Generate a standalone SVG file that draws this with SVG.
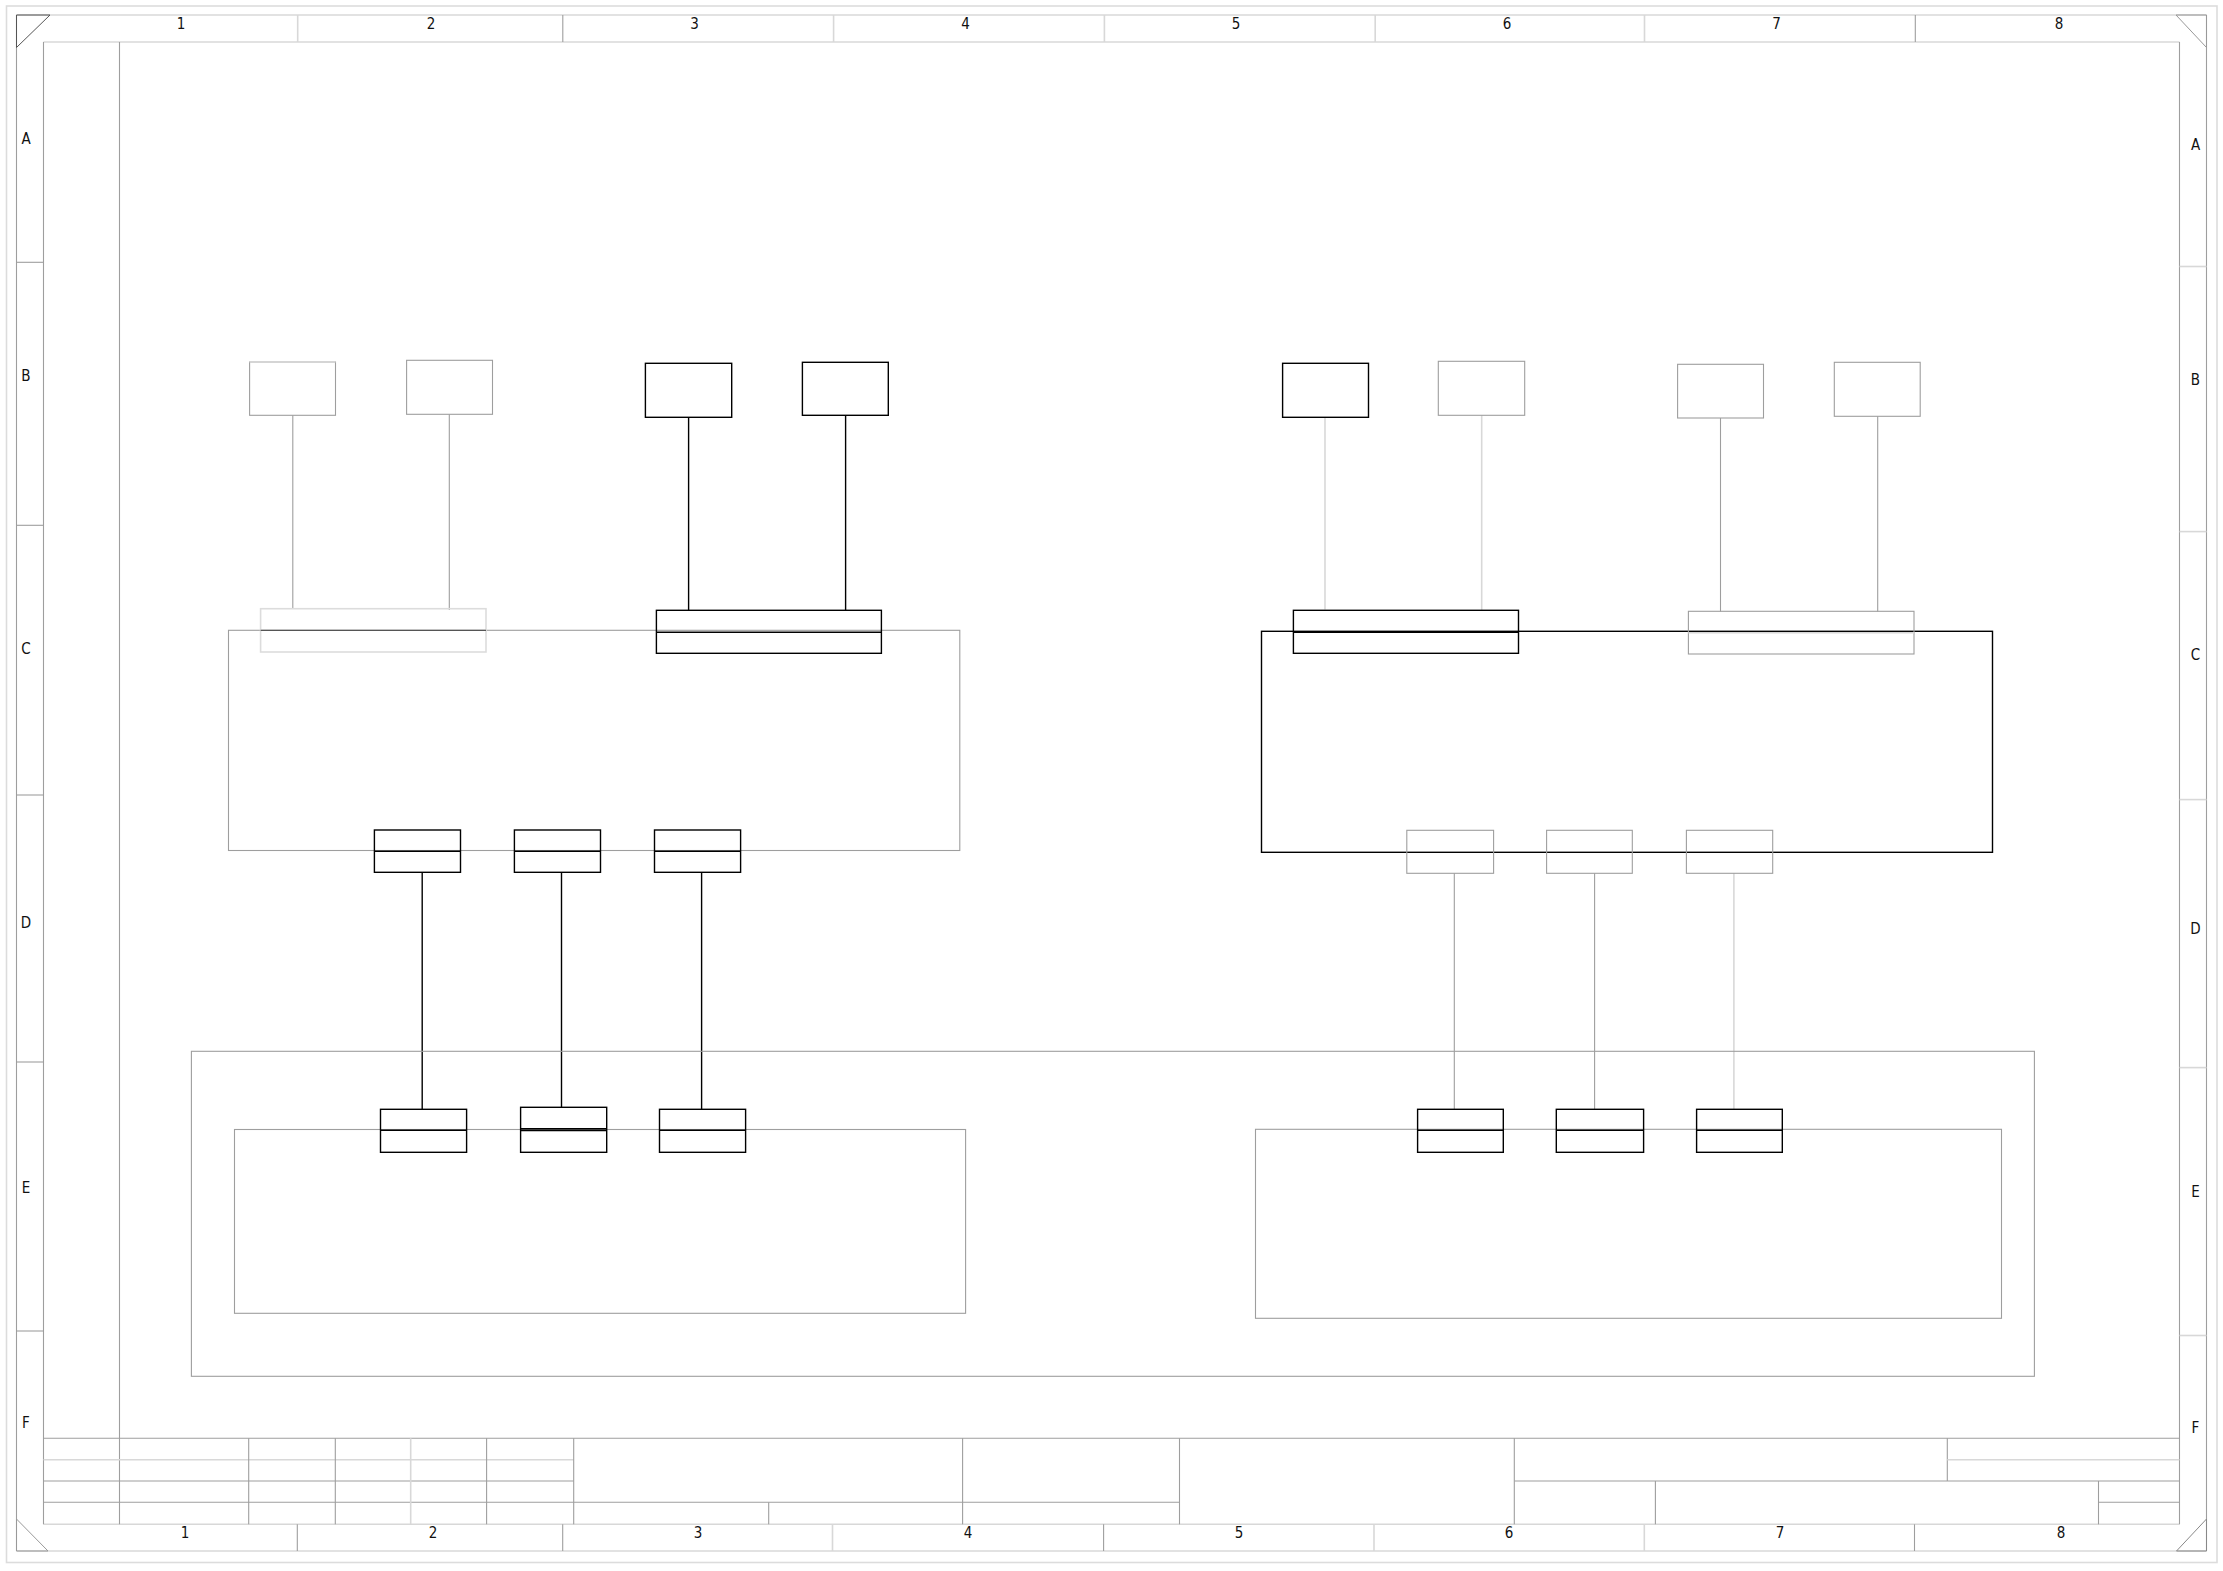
<svg xmlns="http://www.w3.org/2000/svg" width="2223" height="1571" viewBox="0 0 2223 1571">
<style>
.bg{fill:#fff}
.lt{fill:none;stroke:#dcdcdc;stroke-width:1.6}
.gr{fill:none;stroke:#9e9e9e;stroke-width:1.1}
.bk{fill:none;stroke:#000;stroke-width:1.4}
.gl{stroke:#9e9e9e;stroke-width:1.1}
.ll{stroke:#d8d8d8;stroke-width:1.6}
.bl{stroke:#000;stroke-width:1.4}
.n{font-family:"Liberation Sans Narrow","DejaVu Sans Condensed","Liberation Sans",Arial,sans-serif;font-stretch:condensed;font-size:15px;fill:#111;text-anchor:middle;dominant-baseline:central}
</style>
<rect x="0" y="0" width="2223" height="1571" class="bg"/>
<g id="sheet-frame">
  <rect x="6.5" y="6" width="2210.5" height="1556.5" class="lt"/>
  <line x1="16.5" y1="15" x2="2206.5" y2="15" class="ll"/>
  <line x1="16.5" y1="1551" x2="2206.5" y2="1551" class="ll"/>
  <line x1="16.5" y1="15" x2="16.5" y2="1551" class="gl"/>
  <line x1="2206.5" y1="15" x2="2206.5" y2="1551" class="gl"/>
  <line x1="43.5" y1="42" x2="2179.5" y2="42" class="ll"/>
  <line x1="43.5" y1="1524.3" x2="2179.5" y2="1524.3" class="ll"/>
  <line x1="43.5" y1="42" x2="43.5" y2="1524.3" class="gl"/>
  <line x1="2179.5" y1="42" x2="2179.5" y2="1524.3" class="gl"/>
  <line x1="119.5" y1="42" x2="119.5" y2="1524.3" class="gl"/>
  <path d="M16.5 15 L50 15 L16.5 47.5 Z" fill="none" stroke="#555" stroke-width="1"/>
  <path d="M2176 15 L2206.5 15 L2206.5 47.5 Z" fill="none" stroke="#999" stroke-width="1"/>
  <path d="M16.5 1519 L16.5 1551 L48 1551 Z" fill="none" stroke="#999" stroke-width="1"/>
  <path d="M2206.5 1519 L2206.5 1551 L2176.5 1551 Z" fill="none" stroke="#888" stroke-width="1"/>
  <line x1="297.7" y1="15" x2="297.7" y2="42" class="ll"/>
  <line x1="562.8" y1="15" x2="562.8" y2="42" class="gl"/>
  <line x1="833.6" y1="15" x2="833.6" y2="42" class="ll"/>
  <line x1="1104.4" y1="15" x2="1104.4" y2="42" class="ll"/>
  <line x1="1375.2" y1="15" x2="1375.2" y2="42" class="ll"/>
  <line x1="1644.5" y1="15" x2="1644.5" y2="42" class="ll"/>
  <line x1="1915.3" y1="15" x2="1915.3" y2="42" class="gl"/>
  <line x1="297.3" y1="1524.3" x2="297.3" y2="1551" class="gl"/>
  <line x1="562.7" y1="1524.3" x2="562.7" y2="1551" class="gl"/>
  <line x1="832.5" y1="1524.3" x2="832.5" y2="1551" class="ll"/>
  <line x1="1103.6" y1="1524.3" x2="1103.6" y2="1551" class="gl"/>
  <line x1="1374" y1="1524.3" x2="1374" y2="1551" class="ll"/>
  <line x1="1644.3" y1="1524.3" x2="1644.3" y2="1551" class="ll"/>
  <line x1="1914.5" y1="1524.3" x2="1914.5" y2="1551" class="gl"/>
  <line x1="16.5" y1="262.3" x2="43.5" y2="262.3" class="gl"/>
  <line x1="16.5" y1="525.3" x2="43.5" y2="525.3" class="gl"/>
  <line x1="16.5" y1="795" x2="43.5" y2="795" class="gl"/>
  <line x1="16.5" y1="1062" x2="43.5" y2="1062" class="gl"/>
  <line x1="16.5" y1="1331" x2="43.5" y2="1331" class="gl"/>
  <line x1="2179.5" y1="266.5" x2="2206.5" y2="266.5" class="ll"/>
  <line x1="2179.5" y1="531.6" x2="2206.5" y2="531.6" class="ll"/>
  <line x1="2179.5" y1="799.6" x2="2206.5" y2="799.6" class="ll"/>
  <line x1="2179.5" y1="1067.6" x2="2206.5" y2="1067.6" class="ll"/>
  <line x1="2179.5" y1="1335.5" x2="2206.5" y2="1335.5" class="ll"/>
  <g class="n">
    <text x="181" y="23.5">1</text><text x="431" y="23.5">2</text><text x="694.5" y="23.5">3</text><text x="965.5" y="23.5">4</text>
    <text x="1236" y="23.5">5</text><text x="1507" y="23.5">6</text><text x="1776.5" y="23.5">7</text><text x="2059" y="23.5">8</text>
    <text x="185" y="1533">1</text><text x="433" y="1533">2</text><text x="698" y="1533">3</text><text x="968" y="1533">4</text>
    <text x="1239" y="1533">5</text><text x="1509" y="1533">6</text><text x="1780" y="1533">7</text><text x="2061" y="1533">8</text>
    <text x="26" y="139">A</text><text x="26" y="375.7">B</text><text x="26" y="649.3">C</text><text x="26" y="923">D</text><text x="26" y="1188">E</text><text x="26" y="1423">F</text>
    <text x="2195.5" y="144.6">A</text><text x="2195.5" y="380">B</text><text x="2195.5" y="655">C</text><text x="2195.5" y="928.6">D</text><text x="2195.5" y="1192.3">E</text><text x="2195.5" y="1428">F</text>
  </g>
</g>
<g id="title-block">
  <line x1="43.5" y1="1438.3" x2="2179.5" y2="1438.3" class="gl"/>
  <line x1="43.5" y1="1459.7" x2="573.7" y2="1459.7" class="ll"/>
  <line x1="43.5" y1="1481" x2="573.7" y2="1481" class="gl"/>
  <line x1="43.5" y1="1502.3" x2="1179.5" y2="1502.3" class="gl"/>
  <line x1="248.7" y1="1438.3" x2="248.7" y2="1524.3" class="gl"/>
  <line x1="335.3" y1="1438.3" x2="335.3" y2="1524.3" class="gl"/>
  <line x1="410.7" y1="1438.3" x2="410.7" y2="1524.3" class="ll"/>
  <line x1="486.6" y1="1438.3" x2="486.6" y2="1524.3" class="gl"/>
  <line x1="573.7" y1="1438.3" x2="573.7" y2="1524.3" class="gl"/>
  <line x1="768.7" y1="1502.3" x2="768.7" y2="1524.3" class="gl"/>
  <line x1="962.6" y1="1438.3" x2="962.6" y2="1524.3" class="gl"/>
  <line x1="1179.5" y1="1438.3" x2="1179.5" y2="1524.3" class="gl"/>
  <line x1="1514.3" y1="1438.3" x2="1514.3" y2="1524.3" class="gl"/>
  <line x1="1514.3" y1="1481" x2="2179.5" y2="1481" class="gl"/>
  <line x1="1947.3" y1="1438.3" x2="1947.3" y2="1481" class="gl"/>
  <line x1="1947.3" y1="1459.7" x2="2179.5" y2="1459.7" class="ll"/>
  <line x1="1655.4" y1="1481" x2="1655.4" y2="1524.3" class="gl"/>
  <line x1="2098.5" y1="1481" x2="2098.5" y2="1524.3" class="gl"/>
  <line x1="2098.5" y1="1502.3" x2="2179.5" y2="1502.3" class="gl"/>
</g>
<g id="connectors">
  <line x1="292.8" y1="415.3" x2="292.8" y2="609" class="gl"/>
  <line x1="449.3" y1="414.3" x2="449.3" y2="610" class="gl"/>
  <line x1="688.6" y1="417.3" x2="688.6" y2="610.3" class="bl"/>
  <line x1="845.6" y1="415.3" x2="845.6" y2="611" class="bl"/>
  <line x1="1325" y1="417.3" x2="1325" y2="609.5" class="ll"/>
  <line x1="1481.7" y1="415.3" x2="1481.7" y2="611" class="ll"/>
  <line x1="1720.5" y1="418" x2="1720.5" y2="611.5" class="gl"/>
  <line x1="1877.7" y1="416.3" x2="1877.7" y2="611.5" class="gl"/>
  <line x1="422.2" y1="872.3" x2="422.2" y2="1109" class="bl"/>
  <line x1="561.5" y1="872.3" x2="561.5" y2="1107.3" class="bl"/>
  <line x1="701.6" y1="872.3" x2="701.6" y2="1109" class="bl"/>
  <line x1="1454.3" y1="873.3" x2="1454.3" y2="1109.3" class="gl"/>
  <line x1="1594.6" y1="873.3" x2="1594.6" y2="1109.3" class="gl"/>
  <line x1="1733.9" y1="873.3" x2="1733.9" y2="1109.3" class="ll"/>
</g>
<g id="container-bottom"><rect x="191.4" y="1051.3" width="1843" height="325" class="gr"/></g>
<g id="unit-left-lower"><rect x="234.5" y="1129.5" width="731.1" height="183.8" class="gr"/></g>
<g id="unit-right-lower"><rect x="1255.5" y="1129.3" width="746" height="189" class="gr"/></g>
<g id="unit-left"><rect x="228.5" y="630.3" width="731.3" height="220.2" class="gr"/></g>
<g id="unit-right"><rect x="1261.5" y="631.3" width="731" height="221" class="bk"/></g>
<g id="b1"><rect x="249.6" y="362" width="85.9" height="53.3" class="gr"/><line x1="249.6" y1="362" x2="335.5" y2="362" class="ll"/></g>
<g id="b2"><rect x="406.6" y="360.3" width="85.9" height="54" class="gr"/></g>
<g id="b3"><rect x="645.4" y="363.3" width="86.3" height="54" class="bk"/></g>
<g id="b4"><rect x="802.4" y="362.3" width="85.9" height="53" class="bk"/></g>
<g id="b5"><rect x="1282.6" y="363.3" width="85.9" height="54" class="bk"/></g>
<g id="b6"><rect x="1438.3" y="361.3" width="86.4" height="54" class="gr"/></g>
<g id="b7"><rect x="1677.6" y="364.3" width="85.9" height="53.7" class="gr"/></g>
<g id="b8"><rect x="1834.3" y="362.3" width="85.9" height="54" class="gr"/></g>
<g id="p1"><rect x="260.6" y="608.7" width="225.4" height="43.3" class="lt"/><line x1="260.6" y1="630.3" x2="486" y2="630.3" stroke="#555" stroke-width="1.2"/></g>
<g id="p2"><rect x="656.4" y="610.3" width="225" height="43" class="bk"/><line x1="656.4" y1="632.3" x2="881.4" y2="632.3" class="bl"/></g>
<g id="p3"><rect x="1293.4" y="610.3" width="225.1" height="43" class="bk"/><line x1="1293.4" y1="632" x2="1518.5" y2="632" stroke="#000" stroke-width="2"/></g>
<g id="p4"><rect x="1688.4" y="611.3" width="225.6" height="42.7" class="gr"/><line x1="1688.4" y1="632.7" x2="1914" y2="632.7" class="ll"/></g>
<g id="d1"><rect x="374.4" y="830" width="86.1" height="42.3" class="bk"/><line x1="374.4" y1="851.3" x2="460.5" y2="851.3" class="bl"/></g>
<g id="d2"><rect x="514.4" y="830" width="86.1" height="42.3" class="bk"/><line x1="514.4" y1="851.3" x2="600.5" y2="851.3" class="bl"/></g>
<g id="d3"><rect x="654.5" y="830" width="86.1" height="42.3" class="bk"/><line x1="654.5" y1="851.3" x2="740.6" y2="851.3" class="bl"/></g>
<g id="d4"><rect x="1406.8" y="830.3" width="86.8" height="43" class="gr"/></g>
<g id="d5"><rect x="1546.6" y="830.3" width="85.7" height="43" class="gr"/></g>
<g id="d6"><rect x="1686.4" y="830.3" width="86.3" height="43" class="gr"/></g>
<g id="e1"><rect x="380.5" y="1109.3" width="86.1" height="43" class="bk"/><line x1="380.5" y1="1130.3" x2="466.6" y2="1130.3" class="bl"/></g>
<g id="e2"><rect x="520.6" y="1107.3" width="86.1" height="45" class="bk"/><line x1="520.6" y1="1128.7" x2="606.7" y2="1128.7" class="bl"/><line x1="520.6" y1="1130.5" x2="606.7" y2="1130.5" class="bl"/></g>
<g id="e3"><rect x="659.5" y="1109.3" width="86.1" height="43" class="bk"/><line x1="659.5" y1="1130.3" x2="745.6" y2="1130.3" class="bl"/></g>
<g id="e4"><rect x="1417.6" y="1109.3" width="85.7" height="43" class="bk"/><line x1="1417.6" y1="1130.3" x2="1503.3" y2="1130.3" class="bl"/></g>
<g id="e5"><rect x="1556.3" y="1109.3" width="87.3" height="43" class="bk"/><line x1="1556.3" y1="1130.3" x2="1643.6" y2="1130.3" class="bl"/></g>
<g id="e6"><rect x="1696.6" y="1109.3" width="85.7" height="43" class="bk"/><line x1="1696.6" y1="1130.3" x2="1782.3" y2="1130.3" class="bl"/></g>
</svg>
